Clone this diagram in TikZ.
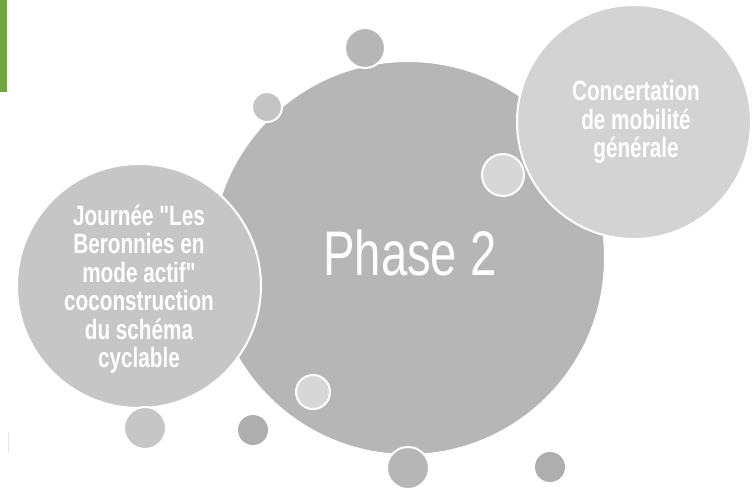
\documentclass[tikz,border=0pt]{standalone}
\usepackage{fontspec}
\newfontfamily\narrowfont[FakeStretch=0.74]{Liberation Sans}
\newfontfamily\phasefont[FakeStretch=0.75]{Liberation Sans}
\definecolor{barGreen}{HTML}{70A342}
\definecolor{mainGray}{HTML}{B6B6B6}
\definecolor{leftGray}{HTML}{C6C6C6}
\definecolor{rightGray}{HTML}{D3D3D3}
\definecolor{paleGray}{HTML}{D7D7D7}
\definecolor{darkGray}{HTML}{AEAEAE}
\tikzset{
  bubble/.style={circle, draw=white, line width=2pt, inner sep=0pt, minimum size=#1},
  dot/.style={circle, inner sep=0pt, minimum size=#1},
  bubbletext/.style={text=white, align=center, inner sep=0pt,
    font=\narrowfont\bfseries\fontsize{28}{28.5}\selectfont},
}
\begin{document}
\begin{tikzpicture}[x=1pt, y=-1pt]
    \useasboundingbox[fill=white] (0,0) rectangle (756,491);
    \fill[barGreen] (0,0) rectangle (7,92);
    \draw[gray!20, line width=1pt] (8,432) -- (8,453);
    % big circles
    \node[bubble=394pt, fill=mainGray] (phase) at (408,258) {};
    \node[bubble=244pt, fill=leftGray] (journee) at (139,286) {};
    \node[bubble=234pt, fill=rightGray] (concert) at (634,122) {};
    % small circles
    \node[bubble=40pt, fill=mainGray] (dotA) at (365,48) {};
    \node[bubble=30pt, fill=leftGray!90!mainGray] (dotB) at (267,107) {};
    \node[bubble=42pt, fill=paleGray] (dotC) at (503,175) {};
    \node[bubble=34pt, fill=paleGray] (dotD) at (313,392) {};
    \node[dot=30pt, fill=darkGray] (dotE) at (253,430) {};
    \node[bubble=42pt, fill=mainGray] (dotF) at (408,468) {};
    \node[bubble=42pt, fill=leftGray] (dotG) at (145,428) {};
    \node[dot=30pt, fill=darkGray] (dotH) at (550,467) {};
    % texts
    \node[text=white, inner sep=0pt, anchor=base,
      font=\phasefont\fontsize{63}{70}\selectfont] (phasetext) at (410,275) {Phase 2};
    \node[bubbletext] (journeetext) at (139,289)
      {Journée "Les\\Beronnies en\\mode actif"\\coconstruction\\du schéma\\cyclable};
    \node[bubbletext] (concerttext) at (636,122)
      {Concertation\\de mobilité\\générale};
\end{tikzpicture}
\end{document}
